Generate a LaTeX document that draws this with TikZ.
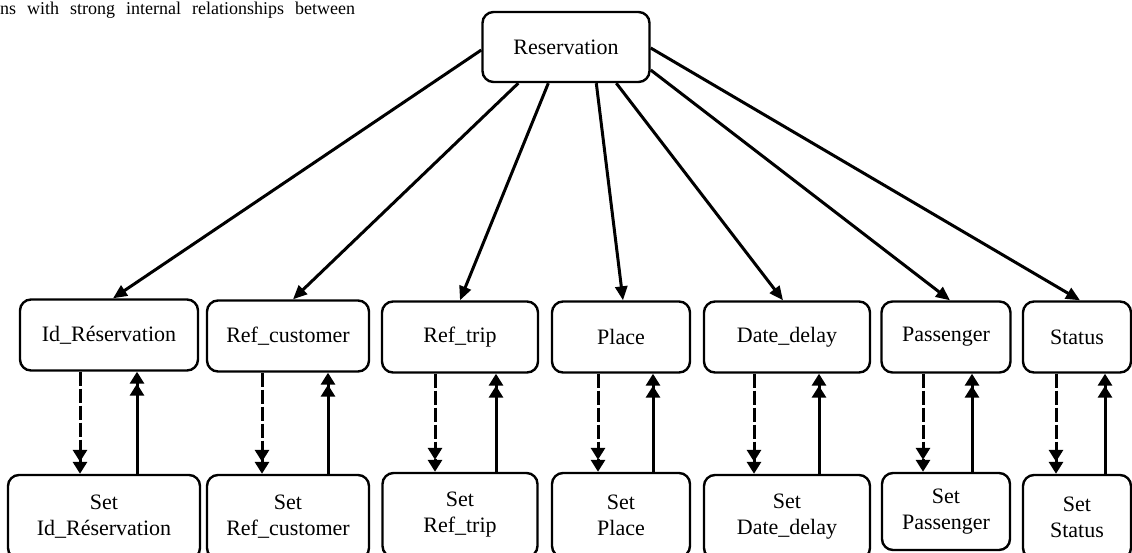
\documentclass[tikz,border=0pt]{standalone}
\usepackage{fontspec}
\setmainfont{Liberation Serif}
\usetikzlibrary{arrows.meta,calc}
\begin{document}
\begin{tikzpicture}[x=1pt,y=-1pt,
  box/.style={draw,line width=2.4pt,rounded corners=11pt,inner sep=0pt,align=center,font=\fontsize{22}{26}\selectfont},
  link/.style={line width=3pt,-{Triangle[length=14pt,width=12pt]}},
  setarrow/.style={line width=3pt,dash pattern=on 14pt off 3pt,-{Triangle[length=12pt,width=14pt]Triangle[length=12pt,width=14pt]}},
  getarrow/.style={line width=3pt,-{Triangle[length=12pt,width=14pt]Triangle[length=12pt,width=14pt]}}]
\useasboundingbox (0,0) rectangle (1132,552);
\clip (0,0) rectangle (1132,552);
% page text above the figure
\node[anchor=base west,inner sep=0pt,font=\fontsize{18}{22}\selectfont] (pagetext) at (0,14) {ns\hspace{11pt}with\hspace{11pt}strong\hspace{11pt}internal\hspace{11pt}relationships\hspace{11pt}between};
% top node
\node[box,minimum width=167pt,minimum height=70pt] (res) at (566,47) {Reservation};
% middle row
\node[box,minimum width=178pt,minimum height=71pt] (id) at (109,335) {Id\_Réservation};
\node[box,minimum width=162pt,minimum height=71pt] (rc) at (288,336) {Ref\_customer};
\node[box,minimum width=156pt,minimum height=71pt] (rt) at (460,337) {Ref\_trip};
\node[box,minimum width=138pt,minimum height=71pt] (pl) at (621,337) {Place};
\node[box,minimum width=166pt,minimum height=71pt] (dd) at (787,337) {Date\_delay};
\node[box,minimum width=129pt,minimum height=71pt] (pa) at (946,337) {Passenger};
\node[box,minimum width=108pt,minimum height=71pt] (st) at (1077,337) {Status};
% bottom row
\node[box,minimum width=192pt,minimum height=84pt] (sid) at (104,517) {Set\\Id\_Réservation};
\node[box,minimum width=162pt,minimum height=84pt] (src) at (288,517) {Set\\Ref\_customer};
\node[box,minimum width=155pt,minimum height=84pt] (srt) at (460,515) {Set\\Ref\_trip};
\node[box,minimum width=138pt,minimum height=84pt] (spl) at (621,515) {Set\\Place};
\node[box,minimum width=166pt,minimum height=84pt] (sdd) at (787,517) {Set\\Date\_delay};
\node[box,minimum width=128pt,minimum height=77pt] (spa) at (946,511.5) {Set\\Passenger};
\node[box,minimum width=108pt,minimum height=84pt] (sst) at (1077,517) {Set\\Status};
% connectors from Reservation
\draw[link] ([yshift=-3pt]res.west) -- ([xshift=4pt]id.north);
\draw[link] ($(res.south west)+(37,0)$) -- ([xshift=5pt]rc.north);
\draw[link] ($(res.south west)+(67,0)$) -- (rt.north);
\draw[link] ($(res.south west)+(115,0)$) -- ([xshift=2pt]pl.north);
\draw[link] ($(res.south west)+(135,0)$) -- ([xshift=-4pt]dd.north);
\draw[link] ([yshift=-23pt]res.east) -- ([xshift=4pt]pa.north);
\draw[link] ([yshift=-1pt]res.east) -- ([xshift=3pt]st.north);
% set / get arrows
\foreach \top/\bot/\dx/\ux in {id/sid/80/137, rc/src/262/328, rt/srt/435/496, pl/spl/598/653, dd/sdd/754/819, pa/spa/923/972, st/sst/1056/1105}{
  \draw[setarrow] (\top.south -| \dx,0) -- (\bot.north -| \dx,0);
  \draw[getarrow] (\bot.north -| \ux,0) -- (\top.south -| \ux,0);
}
\end{tikzpicture}
\end{document}
